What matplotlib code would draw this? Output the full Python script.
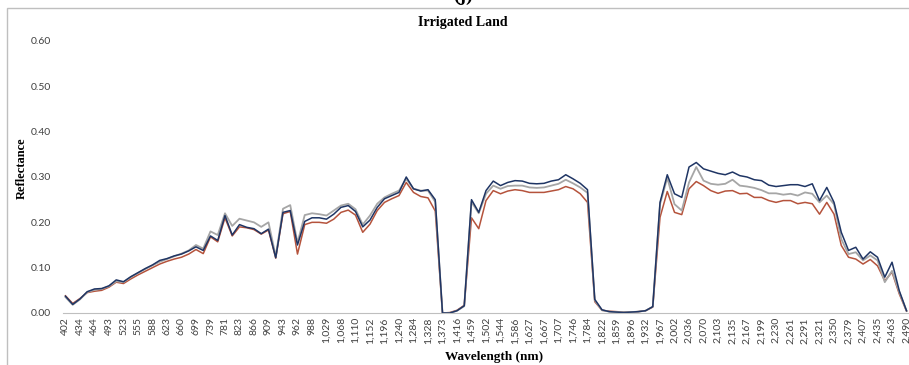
import matplotlib
matplotlib.use("Agg")
import matplotlib.pyplot as plt
from matplotlib.patches import Rectangle

# labelled wavelengths (every 2nd category) and the unlabelled ones in between
label_wl = [402, 434, 464, 493, 523, 555, 588, 623, 660, 699, 739, 781, 823, 866, 909,
            943, 962, 988, 1029, 1068, 1110, 1152, 1196, 1240, 1284, 1328, 1373, 1416,
            1459, 1502, 1544, 1586, 1627, 1667, 1707, 1746, 1784, 1822, 1859, 1896, 1932,
            1967, 2002, 2036, 2070, 2103, 2135, 2167, 2199, 2230, 2261, 2291, 2321, 2350,
            2379, 2407, 2435, 2463, 2490]
mid_wl = [418, 449, 478, 508, 539, 571, 605, 641, 680, 719, 760, 802, 844, 887, 926,
          952, 975, 1008, 1048, 1089, 1131, 1174, 1218, 1262, 1306, 1350, 1395, 1437,
          1480, 1523, 1565, 1606, 1647, 1687, 1726, 1765, 1803, 1841, 1877, 1914, 1949,
          1984, 2019, 2053, 2086, 2119, 2151, 2183, 2214, 2245, 2276, 2306, 2335, 2364,
          2393, 2421, 2449, 2477]

navy = [0.037, 0.019, 0.031, 0.047, 0.053, 0.054, 0.060, 0.073, 0.069, 0.080,
        0.089, 0.098, 0.106, 0.116, 0.120, 0.126, 0.130, 0.137, 0.146, 0.138,
        0.170, 0.160, 0.215, 0.172, 0.195, 0.189, 0.186, 0.175, 0.185, 0.122,
        0.222, 0.226, 0.150, 0.202, 0.210, 0.210, 0.207, 0.218, 0.233, 0.237,
        0.224, 0.190, 0.205, 0.233, 0.252, 0.259, 0.266, 0.300, 0.274, 0.269,
        0.272, 0.250, 0.000, 0.000, 0.005, 0.016, 0.250, 0.222, 0.270, 0.291,
        0.281, 0.288, 0.292, 0.291, 0.286, 0.285, 0.286, 0.291, 0.294, 0.305,
        0.296, 0.286, 0.272, 0.030, 0.007, 0.003, 0.002, 0.001, 0.002, 0.003,
        0.005, 0.014, 0.244, 0.305, 0.263, 0.255, 0.322, 0.332, 0.318, 0.313,
        0.308, 0.305, 0.311, 0.303, 0.300, 0.294, 0.292, 0.282, 0.279, 0.281,
        0.283, 0.283, 0.279, 0.285, 0.248, 0.277, 0.244, 0.178, 0.138, 0.145,
        0.119, 0.135, 0.123, 0.079, 0.112, 0.049, 0.005]
gray = [0.035, 0.018, 0.030, 0.046, 0.051, 0.053, 0.059, 0.070, 0.068, 0.079,
        0.088, 0.097, 0.105, 0.113, 0.119, 0.125, 0.131, 0.138, 0.150, 0.142,
        0.180, 0.172, 0.220, 0.192, 0.208, 0.204, 0.200, 0.190, 0.200, 0.125,
        0.230, 0.238, 0.155, 0.216, 0.220, 0.218, 0.215, 0.226, 0.237, 0.241,
        0.229, 0.195, 0.215, 0.241, 0.255, 0.263, 0.270, 0.296, 0.274, 0.270,
        0.270, 0.245, 0.000, 0.000, 0.005, 0.015, 0.245, 0.220, 0.263, 0.281,
        0.274, 0.280, 0.281, 0.281, 0.277, 0.276, 0.277, 0.281, 0.285, 0.294,
        0.286, 0.277, 0.265, 0.028, 0.006, 0.003, 0.002, 0.002, 0.002, 0.003,
        0.005, 0.014, 0.240, 0.298, 0.240, 0.226, 0.288, 0.322, 0.292, 0.285,
        0.283, 0.285, 0.294, 0.281, 0.279, 0.276, 0.271, 0.264, 0.264, 0.261,
        0.263, 0.259, 0.266, 0.263, 0.244, 0.259, 0.240, 0.163, 0.130, 0.134,
        0.116, 0.127, 0.116, 0.068, 0.093, 0.046, 0.005]
red = [0.038, 0.021, 0.032, 0.045, 0.048, 0.050, 0.057, 0.068, 0.065, 0.075,
       0.084, 0.092, 0.100, 0.108, 0.114, 0.119, 0.123, 0.130, 0.140, 0.131,
       0.168, 0.157, 0.210, 0.170, 0.190, 0.188, 0.184, 0.174, 0.183, 0.121,
       0.219, 0.224, 0.130, 0.195, 0.200, 0.200, 0.198, 0.207, 0.222, 0.227,
       0.216, 0.178, 0.196, 0.226, 0.244, 0.252, 0.259, 0.288, 0.266, 0.257,
       0.254, 0.225, 0.000, 0.001, 0.006, 0.017, 0.210, 0.186, 0.248, 0.270,
       0.263, 0.269, 0.272, 0.270, 0.266, 0.266, 0.266, 0.269, 0.272, 0.279,
       0.274, 0.263, 0.244, 0.025, 0.006, 0.004, 0.003, 0.002, 0.002, 0.003,
       0.005, 0.013, 0.211, 0.268, 0.222, 0.217, 0.274, 0.290, 0.281, 0.270,
       0.264, 0.269, 0.270, 0.263, 0.264, 0.255, 0.255, 0.248, 0.244, 0.248,
       0.248, 0.241, 0.244, 0.241, 0.218, 0.244, 0.218, 0.149, 0.123, 0.119,
       0.108, 0.118, 0.104, 0.071, 0.090, 0.042, 0.004]

# interleave labelled and unlabelled categories
wavelengths = []
for k, w in enumerate(label_wl):
    wavelengths.append(w)
    if k < len(mid_wl):
        wavelengths.append(mid_wl[k])
x = list(range(len(wavelengths)))

fig = plt.figure(figsize=(9.09, 3.65), dpi=100)
ax = fig.add_axes([63 / 909, 52 / 365, 846 / 909, 272 / 365])

ax.plot(x, red, color="#B5533C", lw=1.1)
ax.plot(x, gray, color="#A6A6A6", lw=1.3)
ax.plot(x, navy, color="#1F3564", lw=1.1)

ax.set_xlim(-0.34, 116.34)
ax.set_ylim(0, 0.6)
ax.set_yticks([0, 0.1, 0.2, 0.3, 0.4, 0.5, 0.6])
ax.set_yticklabels(["%.2f" % v for v in ax.get_yticks()], family="Lato",
                   fontsize=7.5, color="#404040")
ax.set_xticks(x[::2])
ax.set_xticklabels(["{:,}".format(w) for w in wavelengths[::2]], rotation=90,
                   family="Lato", fontsize=7.5, color="#404040")
ax.tick_params(axis="both", length=0)
ax.tick_params(axis="y", pad=9)
ax.tick_params(axis="x", pad=3)
for s in ["top", "right", "left"]:
    ax.spines[s].set_visible(False)
ax.spines["bottom"].set_color("#BFBFBF")

serif = "Liberation Serif"
fig.text(463 / 909, 1 - 22.5 / 365, "Irrigated Land", ha="center", va="center",
         family=serif, fontweight="bold", fontsize=10)
fig.text(494 / 909, 1 - 357 / 365, "Wavelength (nm)", ha="center", va="center",
         family=serif, fontweight="bold", fontsize=9.5)
fig.text(22 / 909, 1 - 168 / 365, "Reflectance", ha="center", va="center",
         rotation=90, family=serif, fontweight="bold", fontsize=9)
fig.text(463 / 909, 1 - 1 / 365, "(j)", ha="center", va="baseline",
         family=serif, fontweight="bold", fontsize=14)

fig.patches.append(Rectangle((7.5 / 909, -0.1), 2, 1.1 - 8 / 365, transform=fig.transFigure,
                             fill=False, edgecolor="#BFBFBF", lw=1))

fig.savefig("out.png", dpi=100)
